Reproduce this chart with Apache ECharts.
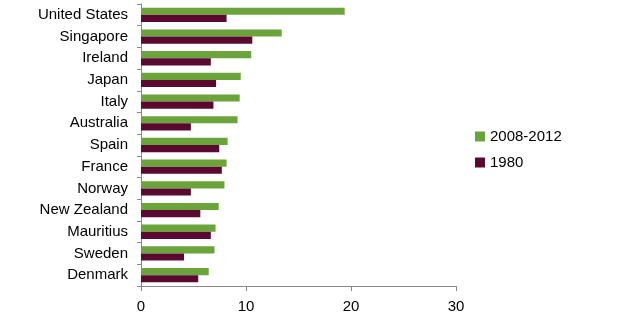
<!DOCTYPE html>
<html><head><meta charset="utf-8">
<script src="https://cdn.jsdelivr.net/npm/echarts@6/dist/echarts.min.js"></script>
<style>html,body{margin:0;padding:0;background:#fff}#c{width:625px;height:319px}</style>
</head><body><div id="c"></div>
<script>
const categories = ["United States","Singapore","Ireland","Japan","Italy","Australia","Spain","France","Norway","New Zealand","Mauritius","Sweden","Denmark"];
const series2008 = [19.4,13.4,10.5,9.5,9.4,9.2,8.25,8.15,7.95,7.4,7.1,7.0,6.45];
const series1980 = [8.15,10.6,6.65,7.15,6.9,4.75,7.45,7.7,4.75,5.65,6.65,4.1,5.45];
const xTicks = [0,10,20,30];
const chart = echarts.init(document.getElementById('c'));
const font = 'Liberation Sans, Arial, sans-serif';
chart.setOption({
  animation:false,
  textStyle:{fontFamily:font},
  grid:{left:141,right:169,top:4,bottom:33,containLabel:false},
  legend:{
    orient:'vertical', left:475, top:129, padding:0, itemWidth:10, itemHeight:10, itemGap:11,
    icon:'rect', textStyle:{fontSize:15,color:'#000',fontFamily:font},
    data:['2008-2012','1980']
  },
  xAxis:{type:'value',min:xTicks[0],max:xTicks[xTicks.length-1],interval:10,
    axisLine:{show:true,lineStyle:{color:'#888'}},
    axisTick:{show:true,length:5,lineStyle:{color:'#888'}},
    splitLine:{show:false},
    axisLabel:{fontSize:15,color:'#000',margin:13,fontFamily:font}},
  yAxis:{type:'category',data:categories,inverse:true,
    axisLine:{show:true,lineStyle:{color:'#888'}},
    axisTick:{show:true,length:4,lineStyle:{color:'#888'}},
    axisLabel:{fontSize:15,color:'#000',margin:13,fontFamily:font}},
  series:[
    {name:'2008-2012',type:'bar',data:series2008,itemStyle:{color:'#6BA43A'},barGap:'0%',barCategoryGap:'34%'},
    {name:'1980',type:'bar',data:series1980,itemStyle:{color:'#5A0A30'},barGap:'0%',barCategoryGap:'34%'}
  ]
});
</script></body></html>
